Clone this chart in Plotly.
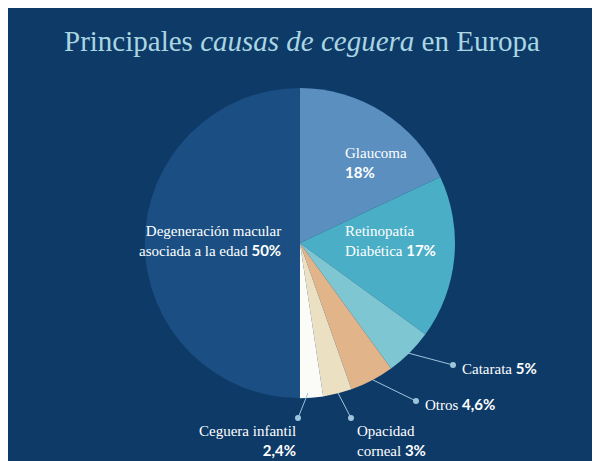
import plotly.graph_objects as go

labels = ["Glaucoma", "Retinopatía Diabética", "Catarata", "Otros", "Opacidad corneal", "Ceguera infantil", "Degeneración macular asociada a la edad"]
values = [18, 17, 5, 4.6, 3, 2.4, 50]
colors = ["#5b8fc0", "#4aaec6", "#7dc6d2", "#e2b48a", "#ece0c2", "#fbfbf8", "#1b4f83"]

fig = go.Figure(go.Pie(
    labels=labels, values=values, sort=False, direction="clockwise", rotation=0,
    marker=dict(colors=colors, line=dict(width=0)), textinfo="none", hoverinfo="label+percent",
    domain=dict(x=[0.228, 0.745], y=[0.15, 0.83]), showlegend=False))

serif = "Liberation Serif"
def ann(x, y, html, align="left", xanchor="left"):
    fig.add_annotation(x=x, y=y, xref="paper", yref="paper", text=html, showarrow=False,
                       align=align, xanchor=xanchor, yanchor="middle",
                       font=dict(family=serif, size=15, color="white"))

ann(335/600, 1-155/461, "Glaucoma<br><b style='font-family:Lato'>18%</b>")
ann(335/600, 1-233/461, "Retinopatía<br>Diabética <b style='font-family:Lato'>17%</b>")
ann(275/600, 1-233/461, "Degeneración macular<br>asociada a la edad <b style='font-family:Lato'>50%</b>", align="right", xanchor="right")
ann(452/600, 1-360/461, "Catarata <b style='font-family:Lato'>5%</b>")
ann(415/600, 1-396/461, "Otros <b style='font-family:Lato'>4,6%</b>")
ann(347/600, 1-433/461, "Opacidad<br>corneal <b style='font-family:Lato'>3%</b>")
ann(290/600, 1-433/461, "Ceguera infantil<br><b style='font-family:Lato'>2,4%</b>", align="right", xanchor="right")

lines = [((445, 357), (400, 345)), ((408, 393), (365, 372)), ((343, 410), (330, 385)), ((290, 410), (300, 385))]
for (x0, y0), (x1, y1) in lines:
    fig.add_shape(type="line", x0=x0/600, y0=1-y0/461, x1=x1/600, y1=1-y1/461, xref="paper", yref="paper",
                  line=dict(color="#9ec4dc", width=1))
    fig.add_shape(type="circle", x0=x0/600-0.005, y0=1-y0/461-0.0065, x1=x0/600+0.005, y1=1-y0/461+0.0065,
                  xref="paper", yref="paper", fillcolor="#9ec4dc", line=dict(width=0))

fig.update_layout(
    width=600, height=461, margin=dict(l=0, r=0, t=0, b=0),
    paper_bgcolor="#0e3a68", plot_bgcolor="#0e3a68",
    title=dict(text="Principales <i>causas de ceguera</i> en Europa", x=0.49, xanchor="center", y=0.95,
               font=dict(family=serif, size=29, color="#a9d6e2")))
fig.write_html("out.html")
